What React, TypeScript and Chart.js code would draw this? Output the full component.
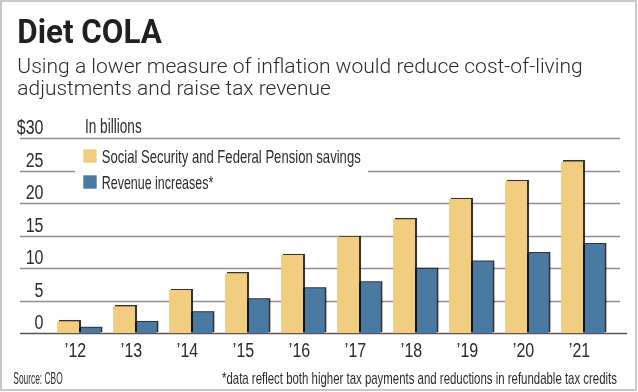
import React, { useEffect, useRef } from "react";
import { Chart, registerables } from "chart.js";

Chart.register(...registerables);

const categories = ["\u201912", "\u201913", "\u201914", "\u201915", "\u201916", "\u201917", "\u201918", "\u201919", "\u201920", "\u201921"];
const savings = [1.8, 4.1, 6.6, 9.2, 12.0, 14.8, 17.5, 20.6, 23.4, 26.4];
const revenue = [0.8, 1.7, 3.2, 5.2, 6.9, 7.8, 9.9, 11.0, 12.3, 13.7];
const yTicks = [0, 5, 10, 15, 20, 25, 30];
const yTickLabels = ["0", "5", "10", "15", "20", "25", "$30"];
const seriesNames = ["Social Security and Federal Pension savings", "Revenue increases*"];
const titleText = "Diet COLA";
const subtitleLines = [
  "Using a lower measure of inflation would reduce cost-of-living",
  "adjustments and raise tax revenue",
];
const unitText = "In billions";
const sourceText = "Source: CBO";
const noteText = "*data reflect both higher tax payments and reductions in refundable tax credits";

const ORANGE = "#f2cd80";
const BLUE = "#4a79a1";
const NARROW = '"Liberation Sans Narrow", "Arial Narrow", sans-serif';
const NSCALE = 0.8;

function txt(
  ctx: CanvasRenderingContext2D,
  s: string,
  x: number,
  y: number,
  font: string,
  color: string,
  align: "left" | "right" | "center",
  sx: number,
  targetW?: number
) {
  ctx.save();
  ctx.font = font;
  ctx.fillStyle = color;
  ctx.textBaseline = "alphabetic";
  ctx.textAlign = "left";
  const w = ctx.measureText(s).width;
  const scale = targetW ? targetW / w : sx;
  const dw = w * scale;
  const left = align === "left" ? x : align === "right" ? x - dw : x - dw / 2;
  ctx.translate(left, y);
  ctx.scale(scale, 1);
  ctx.fillText(s, 0, 0);
  ctx.restore();
}

const decorPlugin = {
  id: "decor",
  beforeDraw(chart: any) {
    const ctx = chart.ctx as CanvasRenderingContext2D;
    ctx.save();
    ctx.fillStyle = "#ffffff";
    ctx.fillRect(0, 0, chart.width, chart.height);
    ctx.strokeStyle = "#c8c8c8";
    ctx.lineWidth = 2;
    ctx.strokeRect(1, 1, 635, 389);
    ctx.restore();
  },
  beforeDatasetsDraw(chart: any) {
    const ctx = chart.ctx as CanvasRenderingContext2D;
    const y = chart.scales.y;
    ctx.save();
    yTicks.forEach((v, i) => {
      const py = Math.round(y.getPixelForValue(v)) + 0.5;
      ctx.beginPath();
      if (v === 0) {
        ctx.strokeStyle = "#555555";
        ctx.lineWidth = 1.5;
        ctx.moveTo(20, py);
        ctx.lineTo(627, py);
      } else {
        ctx.strokeStyle = "#8e8e8e";
        ctx.lineWidth = 1.5;
        ctx.moveTo(20, py);
        ctx.lineTo(620, py);
      }
      ctx.stroke();
      txt(ctx, yTickLabels[i], 43.5, py - 4.5, `20px ${NARROW}`, "#2b2b2b", "right", NSCALE);
    });
    // legend box
    ctx.fillStyle = "#ffffff";
    ctx.fillRect(75, 143, 293, 52);
    const colors = [ORANGE, BLUE];
    const rows = [149.3, 175.3];
    seriesNames.forEach((name, i) => {
      ctx.fillStyle = colors[i];
      ctx.fillRect(83.3, rows[i], 13.4, 13.4);
      txt(ctx, name, 101.7, rows[i] + 13.2, `19px ${NARROW}`, "#2b2b2b", "left", NSCALE, i === 0 ? 259 : 111.6);
    });
    ctx.restore();
  },
  beforeDatasetDraw(chart: any) {
    const ctx = chart.ctx as CanvasRenderingContext2D;
    ctx.save();
    ctx.shadowColor = "rgba(0,0,0,0.8)";
    ctx.shadowOffsetX = 1.5;
    ctx.shadowOffsetY = -1;
    ctx.shadowBlur = 0.5;
  },
  afterDatasetDraw(chart: any) {
    chart.ctx.restore();
  },
  afterDraw(chart: any) {
    const ctx = chart.ctx as CanvasRenderingContext2D;
    const x = chart.scales.x;
    txt(ctx, titleText, 17.3, 42.7, 'bold 33px Roboto, "DejaVu Sans", sans-serif', "#231f20", "left", 1, 144.4);
    txt(ctx, subtitleLines[0], 17.3, 73.3, '300 20px Roboto, "DejaVu Sans", sans-serif', "#2a2a2a", "left", 1, 565.4);
    txt(ctx, subtitleLines[1], 17.3, 95, '300 20px Roboto, "DejaVu Sans", sans-serif', "#2a2a2a", "left", 1, 313.4);
    txt(ctx, unitText, 85, 133.3, `20px ${NARROW}`, "#2b2b2b", "left", NSCALE, 56.7);
    categories.forEach((c, i) => {
      const px = x.getPixelForValue(i);
      txt(ctx, c, px - 3.5, 357, `20px ${NARROW}`, "#2b2b2b", "center", NSCALE);
    });
    txt(ctx, sourceText, 13.3, 383.5, `17px ${NARROW}`, "#2b2b2b", "left", NSCALE, 49.4);
    txt(ctx, noteText, 617, 383.5, `17px ${NARROW}`, "#2b2b2b", "right", NSCALE, 395);
  },
};

export default function App() {
  const ref = useRef<HTMLCanvasElement | null>(null);
  useEffect(() => {
    if (!ref.current) return;
    const chart = new Chart(ref.current, {
      type: "bar",
      data: {
        labels: categories,
        datasets: [
          { label: seriesNames[0], data: savings, backgroundColor: ORANGE, borderWidth: 0 },
          { label: seriesNames[1], data: revenue, backgroundColor: BLUE, borderWidth: 0 },
        ],
      },
      options: {
        responsive: false,
        animation: false,
        devicePixelRatio: 1,
        layout: { padding: { left: 51, right: 27, top: 138, bottom: 59 } },
        datasets: { bar: { categoryPercentage: 0.78, barPercentage: 1 } },
        plugins: { legend: { display: false }, tooltip: { enabled: false }, title: { display: false } },
        scales: {
          x: { display: false, offset: true },
          y: { display: false, min: 0, max: 30 },
        },
      },
      plugins: [decorPlugin],
    });
    return () => chart.destroy();
  }, []);
  return (
    <div style={{ position: "fixed", left: 0, top: 0, width: 638, height: 392, background: "#fff" }}>
      <canvas ref={ref} width={638} height={392} style={{ display: "block" }} />
    </div>
  );
}
